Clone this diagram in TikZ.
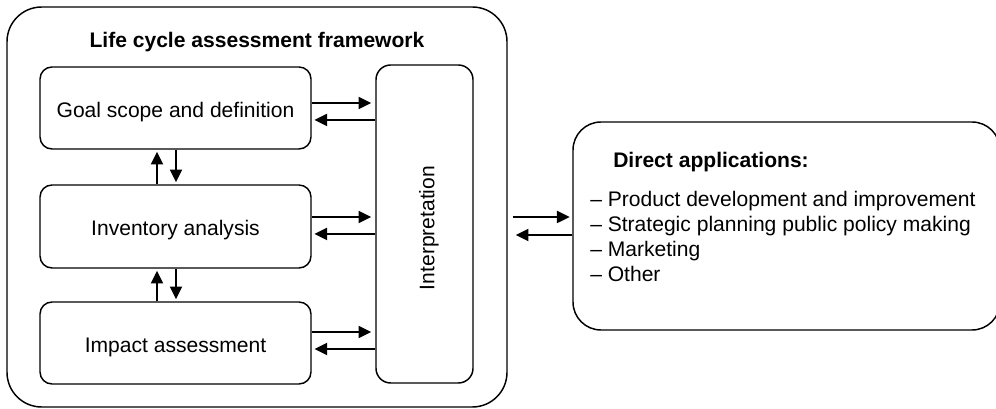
\documentclass[tikz,border=0pt]{standalone}
\usepackage{fontspec}
\setmainfont{Liberation Sans}
\usetikzlibrary{arrows.meta}
\newcommand\myfs{\fontsize{15.8}{18}\selectfont}
\newcommand\myfsb{\fontsize{15.8}{18}\selectfont\bfseries}
\begin{document}
\begin{tikzpicture}[x=0.75pt,y=-0.75pt,
  box/.style={draw, line width=1.1pt, rounded corners=9pt, inner sep=0pt, font=\myfs, text height=14pt, text depth=0pt},
  arr/.style={line width=1.5pt, -{Triangle[length=9.5pt,width=9pt]}},
  txt/.style={font=\myfs, inner sep=0pt}
  ]
\useasboundingbox (0,0) rectangle (996,409);
\node[box, rounded corners=26pt, minimum width=500*0.75pt, minimum height=400*0.75pt] (frame) at (257,207) {};
\node[box, minimum width=271*0.75pt, minimum height=82*0.75pt] (goal) at (175.5,108) {Goal scope and definition};
\node[box, minimum width=271*0.75pt, minimum height=83*0.75pt] (inv) at (175.5,226.5) {Inventory analysis};
\node[box, minimum width=271*0.75pt, minimum height=82*0.75pt] (imp) at (175.5,343) {Impact assessment};
\node[box, rounded corners=11pt, minimum width=97*0.75pt, minimum height=318*0.75pt] (interp) at (424.5,224) {};
\node[txt, rotate=90] (interptext) at (429,228) {Interpretation};
\node[box, rounded corners=21pt, minimum width=427*0.75pt, minimum height=208*0.75pt] (apps) at (786.5,226) {};
\node[txt, font=\myfsb, anchor=base] (title) at (257,48) {Life cycle assessment framework};
\node[txt, font=\myfsb, anchor=base west] (apptitle) at (613,168) {Direct applications:};
\node[txt, anchor=base west] (a1) at (590,207) {– Product development and improvement};
\node[txt, anchor=base west] (a2) at (590,232) {– Strategic planning public policy making};
\node[txt, anchor=base west] (a3) at (590,257) {– Marketing};
\node[txt, anchor=base west] (a4) at (590,282) {– Other};
% horizontal arrows
\draw[arr, shorten >=3pt] (goal.east |- 0,103) -- (interp.west |- 0,103);
\draw[arr, shorten >=2pt] (interp.west |- 0,120) -- (goal.east |- 0,120);
\draw[arr, shorten >=3pt] (inv.east |- 0,217) -- (interp.west |- 0,217);
\draw[arr, shorten >=2pt] (interp.west |- 0,234) -- (inv.east |- 0,234);
\draw[arr, shorten >=3pt] (imp.east |- 0,332) -- (interp.west |- 0,332);
\draw[arr, shorten >=2pt] (interp.west |- 0,349) -- (imp.east |- 0,349);
% vertical arrows
\draw[arr, shorten >=1.5pt] (inv.north -| 157,0) -- (goal.south -| 157,0);
\draw[arr, shorten >=1.5pt] (goal.south -| 176,0) -- (inv.north -| 176,0);
\draw[arr, shorten >=1.5pt] (imp.north -| 157,0) -- (inv.south -| 157,0);
\draw[arr, shorten >=1.5pt] (inv.south -| 176,0) -- (imp.north -| 176,0);
% to applications
\draw[arr, shorten <=3.75pt, shorten >=2pt] (frame.east |- 0,217) -- (apps.west |- 0,217);
\draw[arr, shorten >=6pt] (apps.west |- 0,235) -- (frame.east |- 0,235);
\end{tikzpicture}
\end{document}
